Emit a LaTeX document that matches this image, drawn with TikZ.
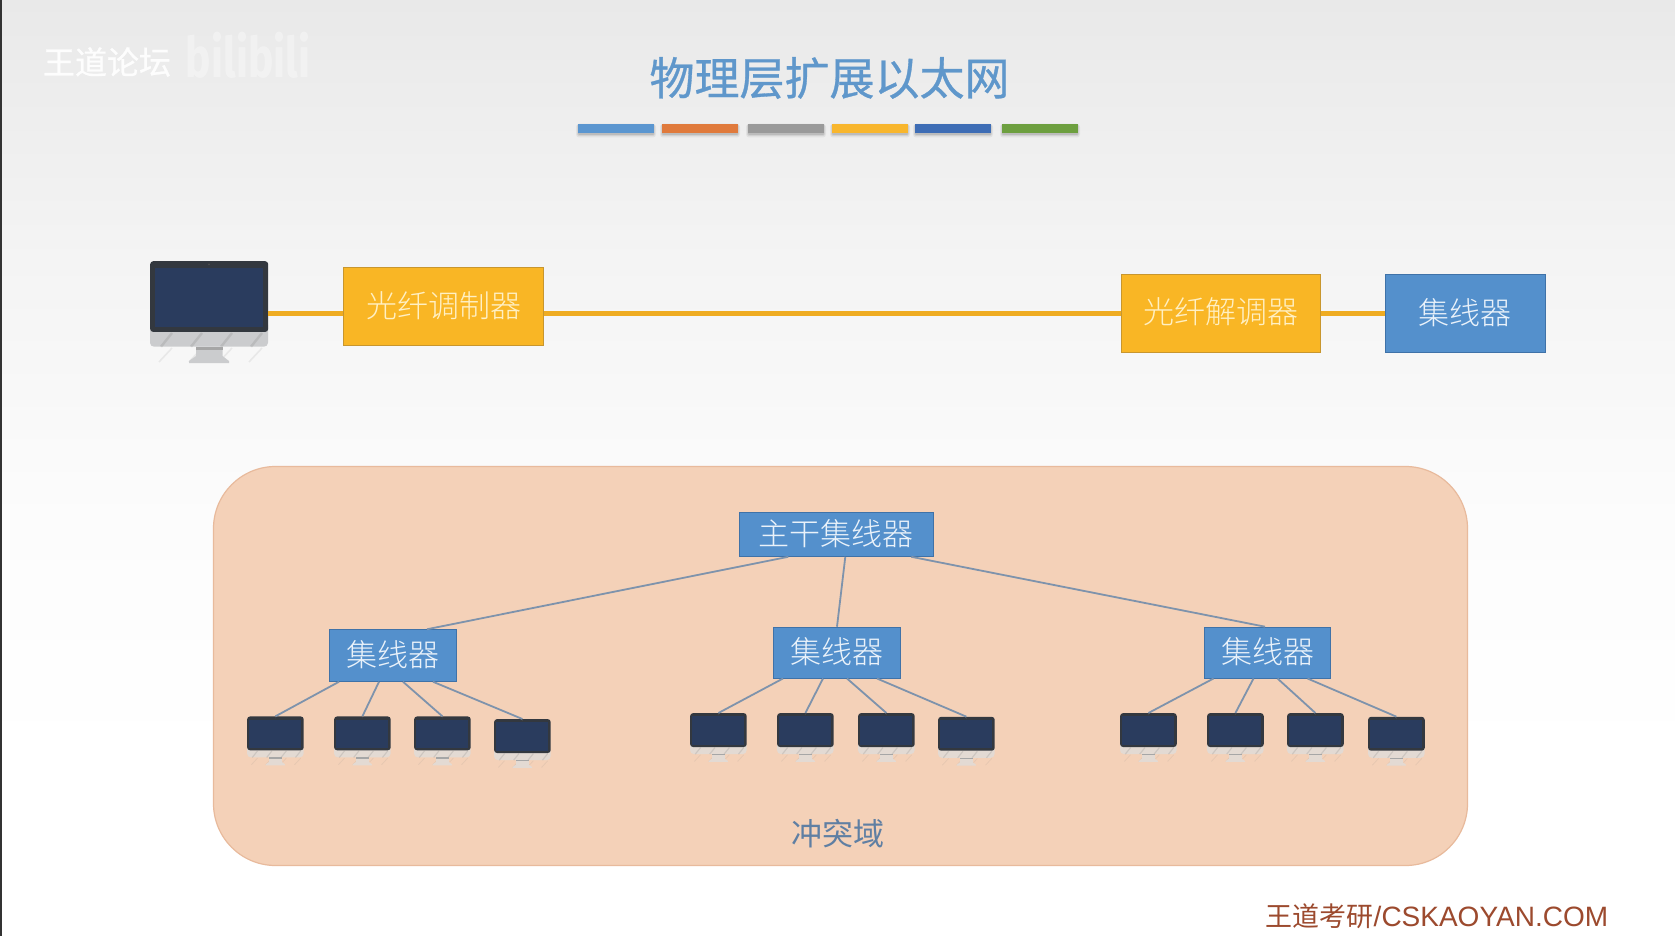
\documentclass[tikz,border=0pt]{standalone}
\usepackage{fontspec}
\setmainfont{Liberation Sans}
\newfontfamily\cjk{Noto Sans CJK SC Light}
\newfontfamily\cjkreg{Noto Sans CJK SC}
\newfontfamily\cjkstrong[FakeBold=0.7]{Noto Sans CJK SC}
\newfontfamily\logofont{Fira Sans}
\definecolor{bgtop}{HTML}{E9E9E9}
\definecolor{bgmid}{HTML}{F4F4F4}
\definecolor{bglow}{HTML}{FCFCFC}
\definecolor{hubfill}{HTML}{5490CC}
\definecolor{hubedge}{HTML}{3F72A8}
\definecolor{hubtext}{HTML}{EAF2FA}
\definecolor{optfill}{HTML}{F9B625}
\definecolor{optedge}{HTML}{C8962E}
\definecolor{opttext}{HTML}{FFF0C4}
\definecolor{optline}{HTML}{EFAC22}
\definecolor{peachfill}{HTML}{F4D1B8}
\definecolor{peachedge}{HTML}{E8BA9C}
\definecolor{wire}{HTML}{7E93AC}
\definecolor{bezel}{HTML}{33383F}
\definecolor{screenblue}{HTML}{2A3C5E}
\definecolor{chin}{HTML}{CBCCCE}
\definecolor{titleblue}{HTML}{5F97CB}
\definecolor{domaintext}{HTML}{5F7FA3}
\definecolor{brand}{HTML}{9C4A2E}
\definecolor{barA}{HTML}{5B96D0}
\definecolor{barB}{HTML}{E07A3C}
\definecolor{barC}{HTML}{9A9A9A}
\definecolor{barD}{HTML}{F8B62D}
\definecolor{barE}{HTML}{3E6DB5}
\definecolor{barF}{HTML}{6D9F3F}
\definecolor{chinsmall}{HTML}{E3DAD3}
\newcommand{\lift}[1]{\raisebox{4.5pt}{#1}}
\tikzset{
  x=1pt,y=-1pt,
  lab/.style={font=\cjk\fontsize{31}{31}\selectfont,inner sep=0pt},
  hubbox/.style={lab,draw=hubedge,line width=1pt,fill=hubfill,text=hubtext},
  optbox/.style={lab,draw=optedge,line width=1.2pt,fill=optfill,text=opttext},
  optwire/.style={draw=optline,line width=4.6pt},
  lan/.style={draw=wire,line width=1.8pt},
  bar/.style={inner sep=0pt,minimum width=76pt,minimum height=8.6pt,anchor=north west},
  bezelbox/.style={inner sep=0pt,minimum width=118pt,minimum height=70.7pt,anchor=north west,
    fill=bezel,rounded corners=3pt,transform shape},
}
% #1 name, #2 x, #3 y, #4 scale, #5 chin colour
\newcommand{\monitorat}[5]{%
  \begin{scope}[shift={(#2,#3)},scale=#4]
    \fill[#5,rounded corners=4pt] (0,60) rectangle (118,85.7);
    \foreach \dx in {22,52,82,112}{
      \draw[gray,opacity=.22,line width=#4*2.4pt] (\dx,72) -- ++(-11,13.7);
    }
    \foreach \dx in {0,30,60,90}{
      \draw[gray,opacity=.12,line width=#4*1.6pt] (\dx+22,87) -- ++(-13,14);
    }
    \fill[#5] (46,85.7) -- (72.5,85.7) -- (72.5,95) -- (79,100) -- (79,102) -- (39,102) -- (39,100) -- (46,95) -- cycle;
    \fill[gray!70] (46,85.7) rectangle (72.5,88.5);
    \node[bezelbox] (#1) at (0,0) {};
    \fill[screenblue] (5,6.7) rectangle (113,66);
    \fill[gray!60!black] (59,3.4) circle[radius=1];
  \end{scope}%
}
\begin{document}
\begin{tikzpicture}
\useasboundingbox (0,0) rectangle (1675,936);
% background
\shade[top color=bgtop,bottom color=bgmid] (0,0) rectangle (1675,260);
\shade[top color=bgmid,bottom color=bglow] (0,259.5) rectangle (1675,520);
\shade[top color=bglow,bottom color=white] (0,519.5) rectangle (1675,760);
\fill[white] (0,759.5) rectangle (1675,936);
\fill[black!80] (0,0) rectangle (2,936);

% watermark
\node[font=\cjkstrong\fontsize{32}{32}\selectfont,text=white,opacity=.9,inner sep=0pt] (forum) at (107,62) {王道论坛};
\node[font=\logofont\bfseries\fontsize{56}{56}\selectfont,text=white,opacity=.35,inner sep=0pt,xscale=.76] (bili) at (248,55) {bilibili};

% title
\node[font=\cjkstrong\fontsize{45}{45}\selectfont,text=titleblue,inner sep=0pt] (title) at (829.5,78) {物理层扩展以太网};
\foreach \nm/\bx/\col in {a/578/barA,b/662/barB,c/748/barC,d/832/barD,e/915/barE,f/1002/barF}{
  \fill[black,opacity=.05,rounded corners=3pt] (\bx-2,124) rectangle ++(80,13.5);
  \fill[black,opacity=.07,rounded corners=2pt] (\bx-1,124) rectangle ++(78,12);
  \fill[black,opacity=.10,rounded corners=1pt] (\bx,125) rectangle ++(76,10);
  \node[bar,fill=\col] (bar\nm) at (\bx,124) {};
}

% top row
\monitorat{pc}{150}{261}{1}{chin}
\node[optbox,minimum width=200pt,minimum height=78pt] (mod) at (443.5,306.5) {\lift{光纤调制器}};
\node[optbox,minimum width=199pt,minimum height=78pt] (dem) at (1221,313.3) {\lift{光纤解调器}};
\node[hubbox,minimum width=160pt,minimum height=78pt] (tophub) at (1465.3,313.3) {\lift{集线器}};
\draw[optwire] (pc.east |- dem.west) -- (mod.west |- dem.west);
\draw[optwire] (mod.east |- dem.west) -- (dem.west);
\draw[optwire] (dem.east) -- (tophub.west);

% collision domain
\node[draw=peachedge,line width=1.2pt,fill=peachfill,rounded corners=62pt,inner sep=0pt,
  minimum width=1254pt,minimum height=399pt] (domain) at (840.5,666) {};
\node[font=\cjkreg\fontsize{31}{31}\selectfont,text=domaintext,inner sep=0pt] (domainlabel) at (837.5,834) {冲突域};

% hubs
\node[hubbox,minimum width=194pt,minimum height=44pt] (trunk) at (836.3,534.3) {\lift{主干集线器}};
\node[hubbox,minimum width=126.5pt,minimum height=51.5pt] (hubA) at (393,655.5) {\lift{集线器}};
\node[hubbox,minimum width=126.5pt,minimum height=50.8pt] (hubB) at (837,652.6) {\lift{集线器}};
\node[hubbox,minimum width=126.5pt,minimum height=50.8pt] (hubC) at (1267.5,652.6) {\lift{集线器}};

% monitors
\monitorat{a1}{247}{716.3}{.48}{chinsmall}
\monitorat{a2}{334}{716.3}{.48}{chinsmall}
\monitorat{a3}{414}{716.3}{.48}{chinsmall}
\monitorat{a4}{494}{719}{.48}{chinsmall}
\monitorat{b1}{690}{713}{.48}{chinsmall}
\monitorat{b2}{777}{713}{.48}{chinsmall}
\monitorat{b3}{858}{713}{.48}{chinsmall}
\monitorat{b4}{938}{716.7}{.48}{chinsmall}
\monitorat{c1}{1120}{713}{.48}{chinsmall}
\monitorat{c2}{1207}{713}{.48}{chinsmall}
\monitorat{c3}{1287}{713}{.48}{chinsmall}
\monitorat{c4}{1368}{716.7}{.48}{chinsmall}

% trunk links
\draw[lan] ([xshift=-48pt]trunk.south) -- ([xshift=34pt]hubA.north);
\draw[lan] ([xshift=9pt]trunk.south) -- (hubB.north);
\draw[lan] ([xshift=75pt]trunk.south) -- ([xshift=-2.5pt]hubC.north);

% hub to monitor links
\foreach \h/\p in {hubA/a,hubB/b,hubC/c}{
  \draw[lan] ([xshift=-54pt]\h.south) -- (\p1.north);
  \draw[lan] ([xshift=-14pt]\h.south) -- (\p2.north);
  \draw[lan] ([xshift=10pt]\h.south) -- (\p3.north);
  \draw[lan] ([xshift=40pt]\h.south) -- (\p4.north);
}

% brand
\node[anchor=west,inner sep=0pt,text=brand,font=\fontsize{28}{28}\selectfont] (brand) at (1265.5,916)
  {{\cjkreg\fontsize{27}{27}\selectfont 王道考研}/CSKAOYAN.COM};
\end{tikzpicture}
\end{document}
